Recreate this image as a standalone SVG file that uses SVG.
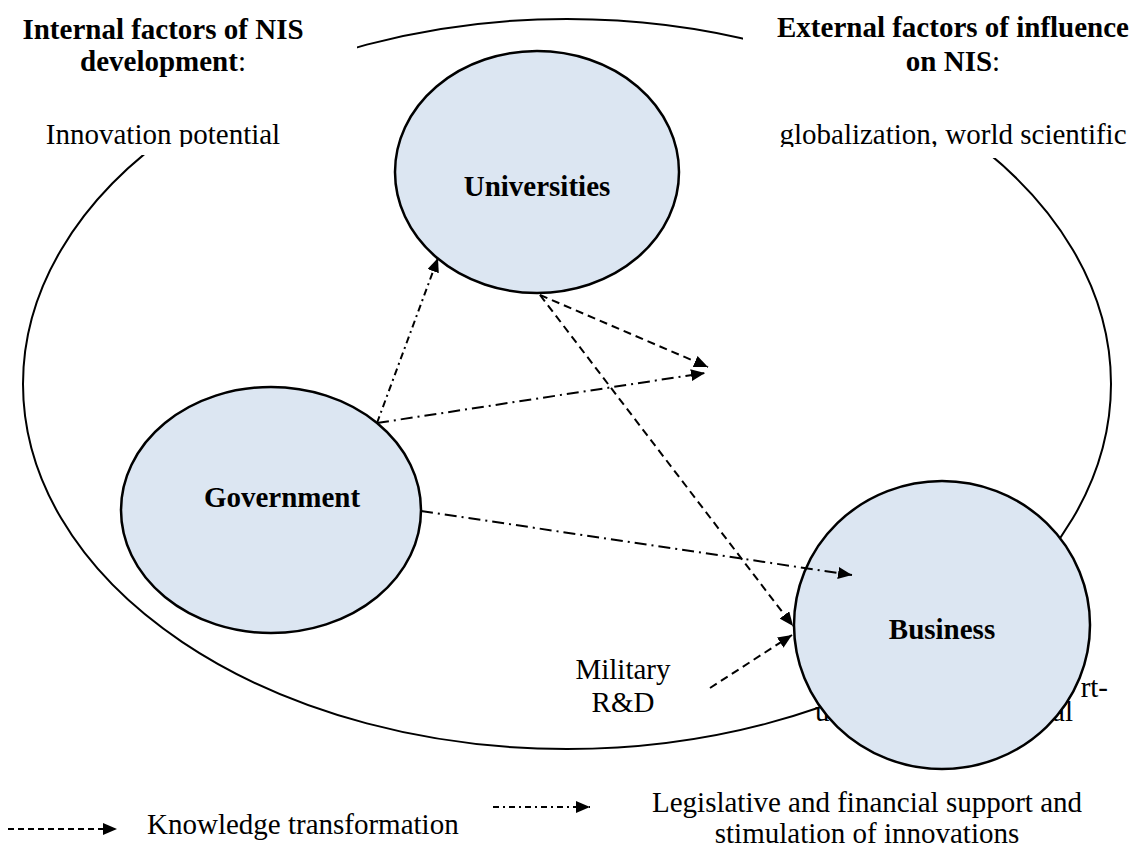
<svg xmlns="http://www.w3.org/2000/svg" width="1136" height="849" viewBox="0 0 1136 849">
<style>
text{font-family:"Liberation Serif","Times New Roman",serif;font-size:29px;fill:#000}
.b{font-weight:bold}
.node{fill:#DCE6F2;stroke:#000;stroke-width:2.5}
.c{fill:none;stroke:#000;stroke-width:2}
.dash{stroke-dasharray:8,5}
.dd{stroke-dasharray:12,5,2,5}
.ds{stroke-dasharray:7,4,2,4}
</style>
<defs>
<marker id="ah" markerWidth="14" markerHeight="12" refX="14" refY="6" orient="auto" markerUnits="userSpaceOnUse"><path d="M0,0 L14,6 L0,12 Z" fill="#000"/></marker>
<clipPath id="clipL"><rect x="0" y="0" width="357" height="147"/></clipPath>
<clipPath id="clipR"><rect x="743" y="0" width="393" height="147"/></clipPath>
</defs>
<rect width="1136" height="849" fill="#fff"/>
<g id="nis-boundary">
<ellipse cx="567" cy="384" rx="544" ry="365" fill="none" stroke="#000" stroke-width="2"/>
<rect x="0" y="0" width="357" height="155" fill="#fff"/>
<rect x="743" y="0" width="393" height="158" fill="#fff"/>
</g>
<g id="internal-factors">
<text x="163" y="39" text-anchor="middle" class="b">Internal factors of NIS</text>
<text x="163" y="71" text-anchor="middle"><tspan class="b">development</tspan>:</text>
<text x="163" y="144" text-anchor="middle" clip-path="url(#clipL)">Innovation potential</text>
</g>
<g id="external-factors">
<text x="953" y="37" text-anchor="middle" class="b">External factors of influence</text>
<text x="953" y="71" text-anchor="middle"><tspan class="b">on NIS</tspan>:</text>
<text x="953" y="144" text-anchor="middle" clip-path="url(#clipR)">globalization, world scientific</text>
</g>
<g id="hidden-text">
<text x="1108" y="697" text-anchor="end">rt-</text>
<text x="815" y="721">u</text>
<text x="1073" y="721" text-anchor="end">al</text>
</g>
<g id="universities">
<ellipse class="node" cx="537" cy="172" rx="142" ry="121"/>
<text x="537" y="196" text-anchor="middle" class="b">Universities</text>
</g>
<g id="government">
<ellipse class="node" cx="271" cy="510" rx="150" ry="123"/>
<text x="282" y="507" text-anchor="middle" class="b">Government</text>
</g>
<g id="business">
<ellipse class="node" cx="942" cy="625" rx="148" ry="144"/>
<text x="942" y="639" text-anchor="middle" class="b">Business</text>
</g>
<g id="military">
<text x="623" y="679" text-anchor="middle">Military</text>
<text x="623" y="712" text-anchor="middle">R&amp;D</text>
</g>
<g id="connectors">
<line class="c ds" x1="377" y1="423" x2="438" y2="258" marker-end="url(#ah)"/>
<line class="c dd" x1="377" y1="423" x2="705" y2="373" marker-end="url(#ah)"/>
<line class="c dash" x1="540" y1="295" x2="708" y2="367" marker-end="url(#ah)"/>
<line class="c dash" x1="540" y1="295" x2="793" y2="626" marker-end="url(#ah)"/>
<line class="c dd" x1="421" y1="511" x2="852" y2="575" marker-end="url(#ah)"/>
<line class="c dash" x1="710" y1="688" x2="792" y2="635" marker-end="url(#ah)"/>
</g>
<g id="legend">
<line class="c dash" x1="8" y1="829" x2="117" y2="829" stroke-width="2" style="stroke-dasharray:6,4" marker-end="url(#ah)"/>
<text x="147" y="834">Knowledge transformation</text>
<line class="c" x1="493" y1="807" x2="590" y2="807" style="stroke-dasharray:6,4,2,4" marker-end="url(#ah)"/>
<text x="867" y="812" text-anchor="middle">Legislative and financial support and</text>
<text x="867" y="843" text-anchor="middle">stimulation of innovations</text>
</g>
</svg>
